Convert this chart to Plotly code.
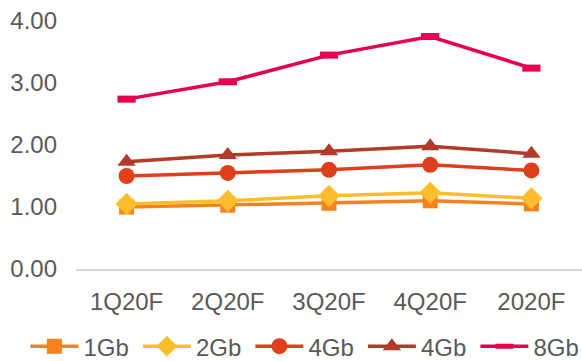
import plotly.graph_objects as go

categories = ["1Q20F", "2Q20F", "3Q20F", "4Q20F", "2020F"]
names = ["1Gb", "2Gb", "4Gb", "4Gb", "8Gb"]
v_1gb = [1.00, 1.03, 1.06, 1.10, 1.05]
v_2gb = [1.05, 1.10, 1.18, 1.23, 1.14]
v_4gb_a = [1.50, 1.55, 1.60, 1.68, 1.59]
v_4gb_b = [1.73, 1.84, 1.90, 1.98, 1.86]
v_8gb = [2.74, 3.02, 3.45, 3.75, 3.24]

series = [v_1gb, v_2gb, v_4gb_a, v_4gb_b, v_8gb]
colors = ["#F5821F", "#FDBD2C", "#DF3F1B", "#B23A29", "#E8004E"]
symbols = ["square", "diamond", "circle", "triangle-up", "line-ew"]
sizes = [15, 17, 16, 16, 13]

fig = go.Figure()
for name, vals, c, s, sz in zip(names, series, colors, symbols, sizes):
    if s == "line-ew":
        marker = dict(symbol=s, size=sz, color=c, line=dict(color=c, width=7))
    else:
        marker = dict(symbol=s, size=sz, color=c, line=dict(width=0))
    fig.add_trace(go.Scatter(
        x=categories, y=vals, name=name, mode="lines+markers",
        line=dict(color=c, width=3.5), marker=marker,
    ))

font = dict(family="Liberation Sans, Arial, sans-serif", size=24, color="#595959")
fig.update_layout(
    width=582, height=361,
    margin=dict(l=76, r=0, t=21, b=92, autoexpand=False),
    paper_bgcolor="white", plot_bgcolor="white",
    font=font,
    showlegend=True,
    legend=dict(orientation="h", xref="paper", yref="paper",
                x=-0.1, y=-0.222, xanchor="left", yanchor="top",
                entrywidth=49.5, entrywidthmode="pixels",
                itemwidth=48, tracegroupgap=0, font=font),
    xaxis=dict(type="category", range=[-0.5, 4.5], showgrid=False,
               showline=True, linecolor="#D9D9D9", linewidth=2,
               ticks="", ticklabelstandoff=10, tickfont=font),
    yaxis=dict(range=[0, 4], dtick=1, tickformat=".2f", showgrid=False,
               zeroline=False, showline=False, ticks="",
               ticklabelstandoff=18, tickfont=font),
)
fig.write_html("out.html")
